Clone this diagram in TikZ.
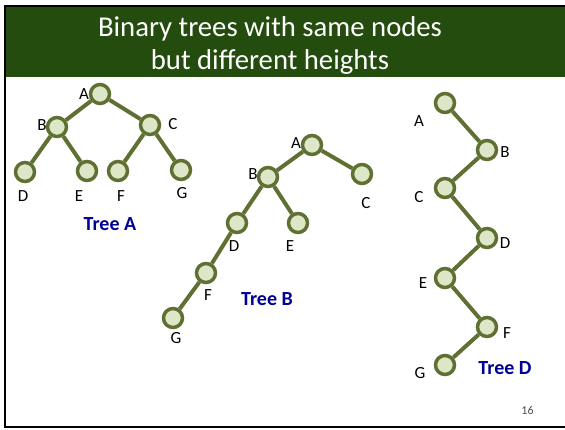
\documentclass[tikz,border=0pt]{standalone}
\usepackage{fontspec}
\setmainfont{Carlito}
\definecolor{bandgreen}{RGB}{36,76,14}
\definecolor{olive}{RGB}{94,112,50}
\definecolor{leaf}{RGB}{221,230,198}
\definecolor{treeblue}{RGB}{0,0,150}

\begin{document}
\begin{tikzpicture}[
    x=1pt, y=-1pt,
    vert/.style={circle, draw=olive, line width=3.5pt, fill=leaf, minimum size=19pt, inner sep=0pt},
    lbl/.style={inner sep=0pt, font=\fontsize{17}{19}\selectfont},
    treename/.style={inner sep=0pt, text=treeblue, font=\fontsize{20}{22}\selectfont\bfseries},
    edge/.style={draw=olive, line width=4pt}
]
\useasboundingbox (0,0) rectangle (565,429);

% --- Titelbalken und Rahmen ---
\fill[bandgreen] (6,7) rectangle (565,77);
\draw[line width=2pt] (565,6) -- (5,6) -- (5,427) -- (565,427);
\node[inner sep=0pt, text=white, align=center, font=\fontsize{28.7}{33}\selectfont] (title) at (270,45.5)
    {Binary trees with same nodes\\but different heights};

% --- Tree A ---
\node[vert] (A_a) at (100,94) {};
\node[vert] (B_a) at (57,127) {};
\node[vert] (C_a) at (150,125) {};
\node[vert] (D_a) at (25,172) {};
\node[vert] (E_a) at (87,171) {};
\node[vert] (F_a) at (118,171) {};
\node[vert] (G_a) at (181,170) {};
\draw[edge] (A_a) -- (B_a);
\draw[edge] (A_a) -- (C_a);
\draw[edge] (B_a) -- (D_a);
\draw[edge] (B_a) -- (E_a);
\draw[edge] (C_a) -- (F_a);
\draw[edge] (C_a) -- (G_a);
\node[lbl] (lA_a) at (84,94) {A};
\node[lbl] (lB_a) at (42,125) {B};
\node[lbl] (lC_a) at (173,124) {C};
\node[lbl] (lD_a) at (23,196) {D};
\node[lbl] (lE_a) at (79,196) {E};
\node[lbl] (lF_a) at (121,196) {F};
\node[lbl] (lG_a) at (182,193) {G};
\node[treename] (name_a) at (110,224) {Tree A};

% --- Tree B ---
\node[vert] (A_b) at (312,145) {};
\node[vert] (B_b) at (268,177) {};
\node[vert] (C_b) at (362,174) {};
\node[vert] (D_b) at (237,223) {};
\node[vert] (E_b) at (298,223) {};
\node[vert] (F_b) at (206,273) {};
\node[vert] (G_b) at (173,318) {};
\draw[edge] (A_b) -- (B_b);
\draw[edge] (A_b) -- (C_b);
\draw[edge] (B_b) -- (D_b);
\draw[edge] (B_b) -- (E_b);
\draw[edge] (D_b) -- (F_b);
\draw[edge] (F_b) -- (G_b);
\node[lbl] (lA_b) at (296,143) {A};
\node[lbl] (lB_b) at (253,174) {B};
\node[lbl] (lC_b) at (366,203) {C};
\node[lbl] (lD_b) at (234,246) {D};
\node[lbl] (lE_b) at (290,246) {E};
\node[lbl] (lF_b) at (208,295) {F};
\node[lbl] (lG_b) at (176,338) {G};
\node[treename] (name_b) at (267,299) {Tree B};

% --- Tree D ---
\node[vert] (A_d) at (445,103) {};
\node[vert] (B_d) at (487,150) {};
\node[vert] (C_d) at (445,188) {};
\node[vert] (D_d) at (487,238) {};
\node[vert] (E_d) at (445,278) {};
\node[vert] (F_d) at (487,327) {};
\node[vert] (G_d) at (445,365) {};
\draw[edge] (A_d) -- (B_d) -- (C_d) -- (D_d) -- (E_d) -- (F_d) -- (G_d);
\node[lbl] (lA_d) at (419,121) {A};
\node[lbl] (lB_d) at (505,152) {B};
\node[lbl] (lC_d) at (419,197) {C};
\node[lbl] (lD_d) at (505,243) {D};
\node[lbl] (lE_d) at (423,283) {E};
\node[lbl] (lF_d) at (507,333) {F};
\node[lbl] (lG_d) at (420,373) {G};
\node[treename] (name_d) at (505,368) {Tree D};

% Seitenzahl
\node[inner sep=0pt, text=black!70, font=\fontsize{12}{14}\selectfont] (page) at (527.5,410) {16};
\end{tikzpicture}
\end{document}
